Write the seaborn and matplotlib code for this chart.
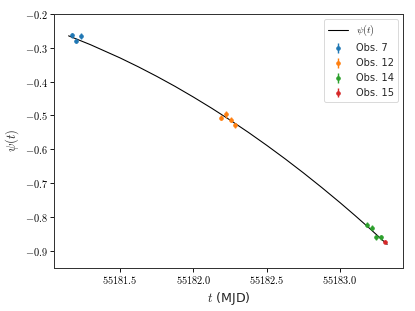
import numpy as np
import pandas as pd
import matplotlib
matplotlib.use("Agg")
import matplotlib.pyplot as plt
import seaborn as sns
from matplotlib.ticker import FuncFormatter, MultipleLocator

# model curve psi(t)
curve_t = [55181.15, 55181.3, 55181.5, 55181.625, 55181.75, 55181.875,
           55182.0, 55182.125, 55182.25, 55182.375, 55182.5, 55182.625,
           55182.75, 55182.875, 55183.0, 55183.1, 55183.2, 55183.32]
curve_psi = [-0.2646, -0.2909, -0.3297, -0.3561, -0.3842, -0.4139,
             -0.4455, -0.4786, -0.5135, -0.5500, -0.5883, -0.6282,
             -0.6698, -0.7131, -0.758, -0.7953, -0.8336, -0.881]

# observations
obs7_t = [55181.17, 55181.20, 55181.232]
obs7_psi = [-0.263, -0.279, -0.265]
obs7_err = [0.007, 0.007, 0.009]

obs12_t = [55182.19, 55182.22, 55182.256, 55182.285]
obs12_psi = [-0.506, -0.497, -0.512, -0.529]
obs12_err = [0.008, 0.010, 0.008, 0.007]

obs14_t = [55183.184, 55183.214, 55183.247, 55183.278]
obs14_psi = [-0.823, -0.832, -0.860, -0.860]
obs14_err = [0.007, 0.007, 0.008, 0.007]

obs15_t = [55183.304]
obs15_psi = [-0.873]
obs15_err = [0.005]

sns.set_style("ticks")
plt.rcParams["mathtext.fontset"] = "cm"
plt.rcParams["font.family"] = ["DejaVu Sans"]

DPI = 415 / 6.4
fig = plt.figure(figsize=(6.4, 311 / DPI), dpi=DPI)
ax = fig.add_axes([0.1313, 0.1392, 0.8391, 0.8158])

curve = pd.DataFrame({"t": curve_t, "psi": curve_psi})
sns.lineplot(data=curve, x="t", y="psi", color="black", lw=1.2,
             label=r"$\psi(t)$", ax=ax)

palette = sns.color_palette("tab10")
groups = [
    ("Obs. 7", obs7_t, obs7_psi, obs7_err, palette[0]),
    ("Obs. 12", obs12_t, obs12_psi, obs12_err, palette[1]),
    ("Obs. 14", obs14_t, obs14_psi, obs14_err, palette[2]),
    ("Obs. 15", obs15_t, obs15_psi, obs15_err, "#d62728"),
]
for name, t, p, e, c in groups:
    ax.errorbar(t, p, yerr=e, fmt="o", ms=4, elinewidth=1.6,
                color=c, label=name)

ax.set_xlim(55181.054, 55183.426)
ax.set_ylim(-0.95, -0.2)
ax.xaxis.set_major_locator(MultipleLocator(0.5))
ax.yaxis.set_major_locator(MultipleLocator(0.1))
ax.xaxis.set_major_formatter(FuncFormatter(lambda v, pos: f"${v:.1f}$"))
ax.yaxis.set_major_formatter(FuncFormatter(lambda v, pos: f"${v:.1f}$"))
ax.tick_params(labelsize=11.5, colors="black", length=4, width=1.0)
for s in ax.spines.values():
    s.set_color("#333333")
    s.set_linewidth(1.1)

ax.set_xlabel(r"$t$ (MJD)", fontsize=14)
ax.set_ylabel(r"$\psi(t)$", fontsize=14)

ax.legend(loc="upper right", fontsize=11, frameon=True)

fig.savefig("out.png", dpi=DPI)
